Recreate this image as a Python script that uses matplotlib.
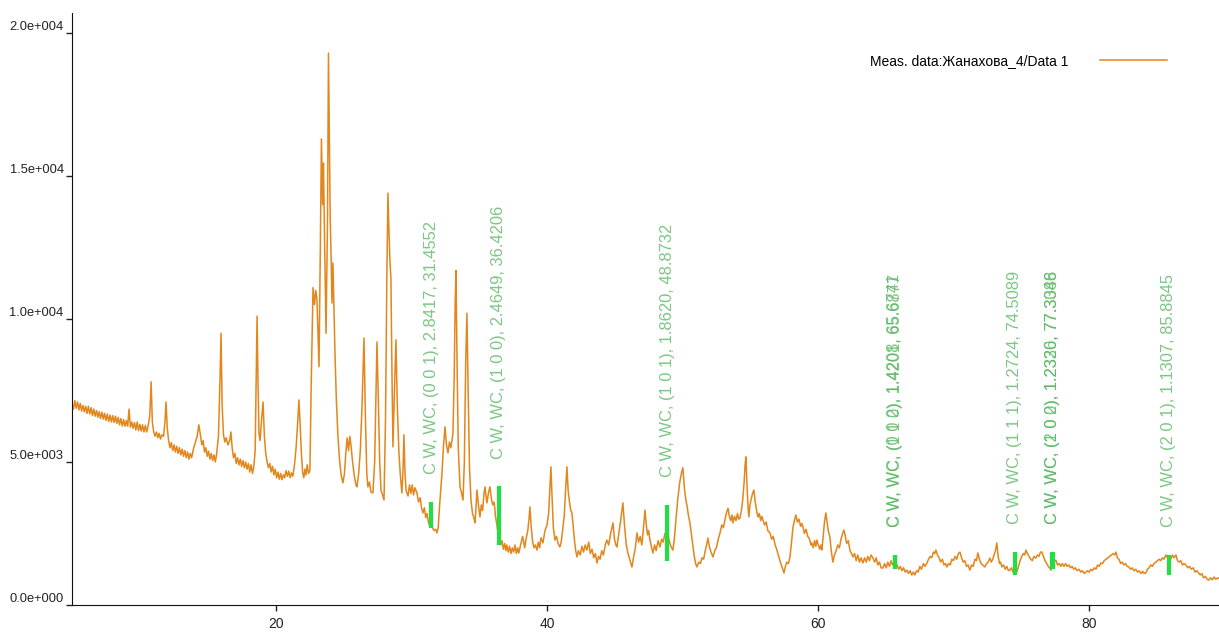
import matplotlib
matplotlib.use('Agg')
import matplotlib.pyplot as plt
import numpy as np

scan = [
    (4.95, 7050), (5.05, 6850), (5.15, 7150), (5.25, 6880), (5.35, 7100), (5.45, 6820), (5.55, 7050),
    (5.65, 6780), (5.75, 6980), (5.85, 6750), (5.95, 6950), (6.05, 6700), (6.15, 6950), (6.25, 6680),
    (6.35, 6900), (6.45, 6620), (6.55, 6850), (6.65, 6600), (6.75, 6800), (6.85, 6560), (6.95, 6760),
    (7.05, 6520), (7.15, 6740), (7.25, 6500), (7.35, 6700), (7.45, 6450), (7.55, 6680), (7.65, 6420),
    (7.75, 6640), (7.85, 6400), (7.95, 6620), (8.05, 6380), (8.15, 6600), (8.25, 6350), (8.35, 6560),
    (8.45, 6300), (8.55, 6520), (8.65, 6260), (8.75, 6480), (8.85, 6250), (8.95, 6450), (9.05, 6250),
    (9.15, 6850), (9.25, 6220), (9.35, 6400), (9.45, 6180), (9.55, 6380), (9.65, 6120), (9.75, 6400),
    (9.85, 6100), (9.95, 6320), (10.05, 6080), (10.15, 6300), (10.25, 6050), (10.35, 6280), (10.45, 6050),
    (10.55, 6250), (10.68, 6600), (10.78, 7800), (10.87, 6400), (10.97, 6050), (11.07, 5900), (11.17, 6050),
    (11.27, 5850), (11.37, 6000), (11.47, 5800), (11.57, 5950), (11.7, 5900), (11.8, 6400), (11.88, 7100),
    (11.97, 6200), (12.07, 5750), (12.17, 5500), (12.27, 5680), (12.37, 5400), (12.47, 5600), (12.57, 5350),
    (12.67, 5550), (12.77, 5300), (12.87, 5500), (12.97, 5250), (13.07, 5450), (13.17, 5200), (13.27, 5400),
    (13.37, 5150), (13.47, 5350), (13.57, 5100), (13.67, 5300), (13.77, 5150), (13.9, 5450), (14.05, 5700),
    (14.18, 5900), (14.3, 6300), (14.42, 5950), (14.52, 5600), (14.62, 5750), (14.72, 5350), (14.82, 5500),
    (14.92, 5200), (15.02, 5380), (15.12, 5100), (15.22, 5300), (15.32, 5050), (15.42, 5250), (15.52, 5000),
    (15.62, 5300), (15.75, 5900), (15.86, 7800), (15.94, 9500), (16.02, 7000), (16.12, 5950), (16.22, 5700),
    (16.32, 5850), (16.45, 5600), (16.58, 5750), (16.67, 6050), (16.76, 5500), (16.86, 5150), (16.96, 5300),
    (17.06, 4950), (17.16, 5150), (17.26, 4900), (17.36, 5100), (17.46, 4850), (17.56, 5050), (17.66, 4800),
    (17.76, 5000), (17.86, 4750), (17.96, 4950), (18.06, 4650), (18.16, 4900), (18.26, 4600), (18.36, 4850),
    (18.46, 5400), (18.54, 8200), (18.6, 10100), (18.67, 7800), (18.74, 6000), (18.82, 5750), (18.92, 6400),
    (19.04, 7100), (19.14, 5900), (19.24, 5300), (19.34, 5000), (19.44, 4800), (19.54, 4950), (19.64, 4650),
    (19.74, 4850), (19.84, 4550), (19.94, 4750), (20.04, 4450), (20.14, 4650), (20.24, 4400), (20.34, 4600),
    (20.44, 4380), (20.54, 4550), (20.64, 4450), (20.74, 4700), (20.84, 4500), (20.94, 4680), (21.04, 4450),
    (21.14, 4620), (21.24, 4500), (21.36, 4900), (21.48, 5500), (21.6, 6400), (21.69, 7170), (21.78, 6300),
    (21.87, 5300), (21.97, 4600), (22.05, 4450), (22.13, 4750), (22.21, 4550), (22.3, 4900), (22.4, 4600),
    (22.5, 4700), (22.6, 7800), (22.73, 11100), (22.84, 10500), (22.93, 11000), (23.02, 10700), (23.1, 9500),
    (23.17, 8330), (23.27, 12500), (23.35, 16300), (23.44, 14000), (23.5, 15450), (23.58, 12800), (23.69, 9500),
    (23.8, 13500), (23.87, 19300), (23.94, 16000), (24.0, 13500), (24.06, 12300), (24.13, 10560), (24.2, 11960),
    (24.27, 10500), (24.35, 8800), (24.45, 7200), (24.57, 5880), (24.7, 5000), (24.82, 4500), (24.94, 4270),
    (25.05, 4600), (25.15, 5300), (25.25, 5840), (25.35, 5400), (25.45, 5900), (25.55, 5500), (25.65, 5000),
    (25.78, 4500), (25.9, 4200), (25.97, 4130), (26.1, 4600), (26.22, 5400), (26.35, 7000), (26.49, 9340),
    (26.6, 6500), (26.7, 4600), (26.78, 4130), (26.9, 4300), (27.0, 3950), (27.15, 3920), (27.28, 5000),
    (27.38, 7500), (27.45, 9200), (27.55, 7200), (27.65, 5000), (27.75, 4000), (27.82, 3920), (27.97, 3670),
    (28.08, 6500), (28.18, 11500), (28.26, 14400), (28.34, 13000), (28.41, 12000), (28.48, 11400), (28.56, 8000),
    (28.63, 5530), (28.74, 7500), (28.85, 9270), (28.95, 7000), (29.07, 5320), (29.18, 4500), (29.29, 3920),
    (29.37, 4700), (29.44, 5950), (29.52, 4600), (29.6, 4000), (29.74, 3810), (29.85, 4200), (29.95, 3900),
    (30.05, 4200), (30.15, 3850), (30.25, 4100), (30.4, 3920), (30.52, 3600), (30.64, 3750), (30.74, 3400),
    (30.84, 3220), (30.95, 3400), (31.05, 3050), (31.15, 3200), (31.25, 2900), (31.36, 2730), (31.46, 2900),
    (31.56, 2700), (31.66, 2600), (31.78, 2650), (31.88, 2520), (31.97, 2700), (32.06, 3400), (32.15, 4000),
    (32.25, 4620), (32.35, 5500), (32.47, 6230), (32.58, 5600), (32.69, 5320), (32.8, 5700), (32.9, 5500),
    (33.0, 5800), (33.06, 6020), (33.15, 8000), (33.22, 10500), (33.28, 11700), (33.36, 8500), (33.45, 5500),
    (33.58, 4130), (33.7, 3900), (33.8, 3670), (33.9, 5000), (34.0, 8500), (34.09, 10200), (34.18, 7500),
    (34.28, 4800), (34.39, 3670), (34.5, 3200), (34.6, 3050), (34.68, 2870), (34.76, 3400), (34.83, 4020),
    (34.94, 3500), (35.05, 3080), (35.15, 3500), (35.25, 3300), (35.35, 3900), (35.42, 4130), (35.5, 3800),
    (35.57, 3570), (35.67, 3900), (35.79, 4130), (35.9, 3700), (36.0, 3500), (36.1, 3600), (36.2, 3100),
    (36.3, 2800), (36.38, 2520), (36.48, 2400), (36.58, 2100), (36.68, 2250), (36.78, 1950), (36.88, 2150),
    (36.96, 1900), (37.04, 2100), (37.14, 1850), (37.24, 2050), (37.34, 1800), (37.44, 2000), (37.54, 1850),
    (37.64, 2100), (37.74, 1800), (37.84, 2000), (37.92, 1820), (38.05, 2100), (38.2, 2400), (38.35, 2000),
    (38.45, 2300), (38.58, 2600), (38.67, 3000), (38.74, 3430), (38.84, 2700), (38.94, 2200), (39.04, 2000),
    (39.14, 2100), (39.26, 1920), (39.36, 2200), (39.46, 2000), (39.56, 2350), (39.7, 2170), (39.85, 2600),
    (40.0, 2800), (40.12, 3200), (40.22, 4200), (40.29, 4830), (40.37, 3800), (40.47, 2700), (40.59, 2270),
    (40.7, 2400), (40.82, 2150), (40.95, 2030), (41.05, 2200), (41.15, 2600), (41.27, 3100), (41.38, 4100),
    (41.47, 4830), (41.56, 4000), (41.66, 3600), (41.76, 3300), (41.84, 3220), (41.94, 2700), (42.04, 2200),
    (42.12, 1900), (42.21, 1680), (42.32, 1900), (42.45, 1750), (42.58, 2050), (42.7, 1850), (42.82, 2100),
    (42.95, 1920), (43.08, 2200), (43.2, 1800), (43.32, 1950), (43.45, 1650), (43.57, 1800), (43.69, 1470),
    (43.8, 1700), (43.92, 1600), (44.04, 1900), (44.16, 1750), (44.3, 2100), (44.42, 2270), (44.55, 2100),
    (44.7, 2500), (44.87, 2870), (44.98, 2300), (45.08, 2100), (45.16, 2030), (45.3, 2500), (45.45, 3000),
    (45.6, 3570), (45.72, 2800), (45.85, 2100), (45.98, 1800), (46.1, 1600), (46.27, 1330), (46.4, 1700),
    (46.52, 2000), (46.64, 2520), (46.76, 2200), (46.88, 2400), (47.0, 2100), (47.12, 2700), (47.23, 3320),
    (47.33, 2800), (47.42, 2450), (47.5, 2600), (47.6, 2270), (47.72, 2000), (47.82, 1820), (47.94, 2100),
    (48.06, 1900), (48.2, 2250), (48.34, 2030), (48.46, 2300), (48.58, 2200), (48.7, 2500), (48.78, 2520),
    (48.9, 2650), (49.0, 2300), (49.1, 2100), (49.2, 2000), (49.29, 1920), (49.4, 2300), (49.52, 3000),
    (49.65, 3700), (49.8, 4300), (49.92, 4600), (50.03, 4800), (50.14, 4100), (50.24, 3700), (50.34, 3450),
    (50.45, 3100), (50.55, 2870), (50.65, 2500), (50.75, 2100), (50.87, 1700), (50.97, 1450), (51.07, 1330),
    (51.2, 1500), (51.32, 1450), (51.44, 1650), (51.56, 1600), (51.68, 1900), (51.78, 2100), (51.88, 2340),
    (51.98, 2050), (52.1, 1850), (52.25, 1680), (52.38, 1900), (52.5, 2000), (52.64, 2300), (52.77, 2520),
    (52.9, 2800), (53.02, 2700), (53.14, 3000), (53.26, 3250), (53.36, 3380), (53.46, 3100), (53.56, 2950),
    (53.66, 3150), (53.72, 2870), (53.84, 3100), (53.95, 2950), (54.06, 3200), (54.15, 3000), (54.24, 3040),
    (54.35, 3300), (54.45, 3700), (54.55, 4300), (54.62, 4900), (54.68, 5180), (54.76, 4200), (54.84, 3400),
    (54.9, 3080), (54.98, 3500), (55.07, 3700), (55.17, 3900), (55.27, 4020), (55.37, 3600), (55.47, 3300),
    (55.57, 3080), (55.67, 3200), (55.77, 2950), (55.86, 3100), (55.94, 2970), (56.06, 2800), (56.18, 2900),
    (56.3, 2600), (56.45, 2520), (56.58, 2300), (56.7, 2400), (56.84, 2100), (56.97, 1920), (57.1, 1700),
    (57.22, 1500), (57.36, 1300), (57.49, 1120), (57.6, 1350), (57.7, 1500), (57.82, 1450), (57.93, 1680),
    (58.05, 2200), (58.15, 2700), (58.26, 2950), (58.37, 3150), (58.48, 2900), (58.6, 3000), (58.72, 2750),
    (58.82, 2850), (58.89, 2730), (59.0, 2500), (59.12, 2650), (59.25, 2400), (59.38, 2300), (59.48, 2100),
    (59.55, 2170), (59.65, 2000), (59.75, 2250), (59.84, 2050), (59.92, 2270), (60.02, 2100), (60.14, 1950),
    (60.22, 2100), (60.29, 1920), (60.38, 2400), (60.48, 2900), (60.58, 3220), (60.66, 2950), (60.76, 2600),
    (60.88, 2380), (60.98, 1900), (61.1, 1500), (61.22, 1750), (61.34, 1900), (61.46, 2100), (61.58, 2000),
    (61.7, 2300), (61.82, 2500), (61.92, 2620), (62.02, 2400), (62.12, 2150), (62.24, 2250), (62.36, 1900),
    (62.48, 1800), (62.58, 1680), (62.7, 1800), (62.82, 1550), (62.94, 1750), (63.06, 1500), (63.18, 1650),
    (63.32, 1470), (63.44, 1650), (63.56, 1500), (63.68, 1700), (63.8, 1550), (63.92, 1750), (64.06, 1640),
    (64.18, 1500), (64.3, 1650), (64.42, 1400), (64.54, 1500), (64.66, 1300), (64.79, 1290), (64.92, 1450),
    (65.04, 1300), (65.16, 1500), (65.28, 1350), (65.4, 1550), (65.5, 1400), (65.6, 1470), (65.72, 1300),
    (65.84, 1400), (65.96, 1250), (66.08, 1350), (66.2, 1200), (66.32, 1300), (66.44, 1150), (66.56, 1220),
    (66.68, 1100), (66.8, 1200), (66.92, 1050), (67.04, 1150), (67.15, 1050), (67.28, 1200), (67.4, 1150),
    (67.52, 1350), (67.64, 1250), (67.78, 1450), (67.9, 1350), (68.04, 1470), (68.16, 1600), (68.28, 1700),
    (68.4, 1650), (68.52, 1850), (68.62, 1800), (68.7, 1920), (68.82, 1750), (68.94, 1650), (69.06, 1500),
    (69.18, 1600), (69.3, 1400), (69.42, 1450), (69.52, 1330), (69.64, 1450), (69.76, 1400), (69.88, 1600),
    (70.0, 1550), (70.12, 1700), (70.24, 1600), (70.36, 1800), (70.48, 1850), (70.6, 1650), (70.72, 1500),
    (70.84, 1550), (70.96, 1350), (71.08, 1400), (71.21, 1220), (71.34, 1400), (71.46, 1350), (71.58, 1600),
    (71.7, 1550), (71.8, 1820), (71.92, 1600), (72.04, 1450), (72.16, 1400), (72.32, 1330), (72.44, 1450),
    (72.56, 1500), (72.69, 1640), (72.8, 1500), (72.9, 1600), (73.0, 1750), (73.1, 1900), (73.2, 2170),
    (73.3, 1700), (73.4, 1450), (73.48, 1500), (73.57, 1330), (73.7, 1400), (73.82, 1250), (73.94, 1350),
    (74.06, 1200), (74.16, 1220), (74.28, 1300), (74.4, 1150), (74.52, 1250), (74.68, 1150), (74.8, 1350),
    (74.92, 1550), (75.04, 1700), (75.16, 1800), (75.26, 1750), (75.35, 1920), (75.46, 1800), (75.58, 1700),
    (75.7, 1600), (75.82, 1550), (75.94, 1700), (76.08, 1640), (76.2, 1750), (76.32, 1700), (76.42, 1850),
    (76.53, 1850), (76.64, 1700), (76.76, 1550), (76.88, 1450), (77.0, 1350), (77.1, 1300), (77.19, 1220),
    (77.3, 1400), (77.42, 1500), (77.56, 1570), (77.68, 1400), (77.8, 1450), (77.92, 1350), (78.04, 1450),
    (78.16, 1350), (78.28, 1450), (78.4, 1350), (78.52, 1400), (78.64, 1300), (78.76, 1350), (78.88, 1250),
    (79.0, 1300), (79.12, 1200), (79.26, 1250), (79.4, 1150), (79.52, 1200), (79.66, 1100), (79.78, 1150),
    (79.9, 1200), (80.02, 1150), (80.14, 1250), (80.26, 1200), (80.4, 1300), (80.52, 1250), (80.64, 1400),
    (80.76, 1350), (80.88, 1470), (81.0, 1450), (81.12, 1550), (81.26, 1600), (81.4, 1650), (81.54, 1700),
    (81.66, 1750), (81.8, 1800), (81.9, 1750), (81.99, 1850), (82.1, 1650), (82.22, 1600), (82.34, 1450),
    (82.46, 1500), (82.58, 1400), (82.7, 1450), (82.82, 1350), (82.95, 1330), (83.08, 1250), (83.2, 1300),
    (83.32, 1200), (83.46, 1250), (83.58, 1150), (83.7, 1200), (83.84, 1100), (83.96, 1180), (84.08, 1100),
    (84.2, 1120), (84.32, 1250), (84.44, 1300), (84.56, 1400), (84.68, 1350), (84.8, 1450), (84.94, 1500),
    (85.06, 1550), (85.18, 1600), (85.3, 1550), (85.42, 1650), (85.54, 1600), (85.68, 1750), (85.8, 1650),
    (85.92, 1700), (86.04, 1600), (86.16, 1750), (86.28, 1650), (86.42, 1750), (86.54, 1550), (86.66, 1500),
    (86.78, 1550), (86.9, 1400), (87.02, 1450), (87.16, 1400), (87.3, 1300), (87.42, 1350), (87.56, 1250),
    (87.7, 1300), (87.84, 1150), (87.96, 1200), (88.1, 1120), (88.22, 1050), (88.34, 1100), (88.46, 950),
    (88.6, 1000), (88.72, 900), (88.85, 870), (88.98, 950), (89.1, 880), (89.24, 980), (89.36, 900),
    (89.5, 950), (89.6, 930),
]

# reference lines (WC card)
ref_pos = [31.4552, 36.4206, 48.8732, 65.6741, 65.6877, 74.5089, 77.3046, 77.3388, 85.8845]
ref_lo = [2700, 2100, 1550, 1250, 1250, 1050, 1250, 1250, 1050]
ref_hi = [3600, 4150, 3500, 1750, 1750, 1850, 1850, 1850, 1750]
ref_labels = [
    'C W, WC, (0 0 1), 2.8417, 31.4552',
    'C W, WC, (1 0 0), 2.4649, 36.4206',
    'C W, WC, (1 0 1), 1.8620, 48.8732',
    'C W, WC, (0 0 2), 1.4208, 65.6741',
    'C W, WC, (1 1 0), 1.4201, 65.6877',
    'C W, WC, (1 1 1), 1.2724, 74.5089',
    'C W, WC, (2 0 0), 1.2330, 77.3046',
    'C W, WC, (1 0 2), 1.2326, 77.3388',
    'C W, WC, (2 0 1), 1.1307, 85.8845',
]

legend_label = 'Meas. data:Жанахова_4/Data 1'
yticks = [0, 5000, 10000, 15000, 20000]
xticks = [20, 40, 60, 80]

line_color = '#e3861c'
green_text = '#5cb865'
green_bar = '#22dd44'
plt.rcParams['font.family'] = ['Liberation Sans', 'DejaVu Sans']

fig = plt.figure(figsize=(12.19, 6.35), dpi=100)
ax = fig.add_axes([72 / 1219, 30 / 635, 1 - 72 / 1219, 592 / 635])

tt = np.array([p[0] for p in scan])
cc = np.array([p[1] for p in scan])
ax.plot(tt, cc, color=line_color, lw=1.1, label=legend_label)

for x, lo, hi, lab in zip(ref_pos, ref_lo, ref_hi, ref_labels):
    ax.plot([x, x], [lo, hi], color=green_bar, lw=3, solid_capstyle='butt')
    ax.annotate(lab, xy=(x, hi), xytext=(0, 20), textcoords='offset points',
                rotation=90, ha='center', va='bottom', color=green_text,
                fontsize=11.9, alpha=0.8)

ax.set_xlim(4.94, 89.6)
ax.set_ylim(0, 20700)
ax.set_xticks(xticks)
ax.set_yticks(yticks)
ax.set_yticklabels([f'{v:.1e}'.replace('e+0', 'e+00') for v in yticks])
ax.tick_params(axis='both', direction='out', length=4, width=1, labelsize=9.3,
               colors='#222222', pad=2)
ax.tick_params(axis='x', pad=5, labelsize=10)
for lab in ax.get_yticklabels():
    lab.set_va('bottom')
for s in ['top', 'right']:
    ax.spines[s].set_visible(False)
for s in ['left', 'bottom']:
    ax.spines[s].set_color('#111111')

ax.legend(loc='center right', bbox_to_anchor=(1167 / 1219, 1 - 61 / 635),
          bbox_transform=fig.transFigure, frameon=False, markerfirst=False,
          handlelength=4.8, handletextpad=2.3, borderpad=0, borderaxespad=0,
          prop={'size': 10})

fig.savefig('out.png', dpi=100)
